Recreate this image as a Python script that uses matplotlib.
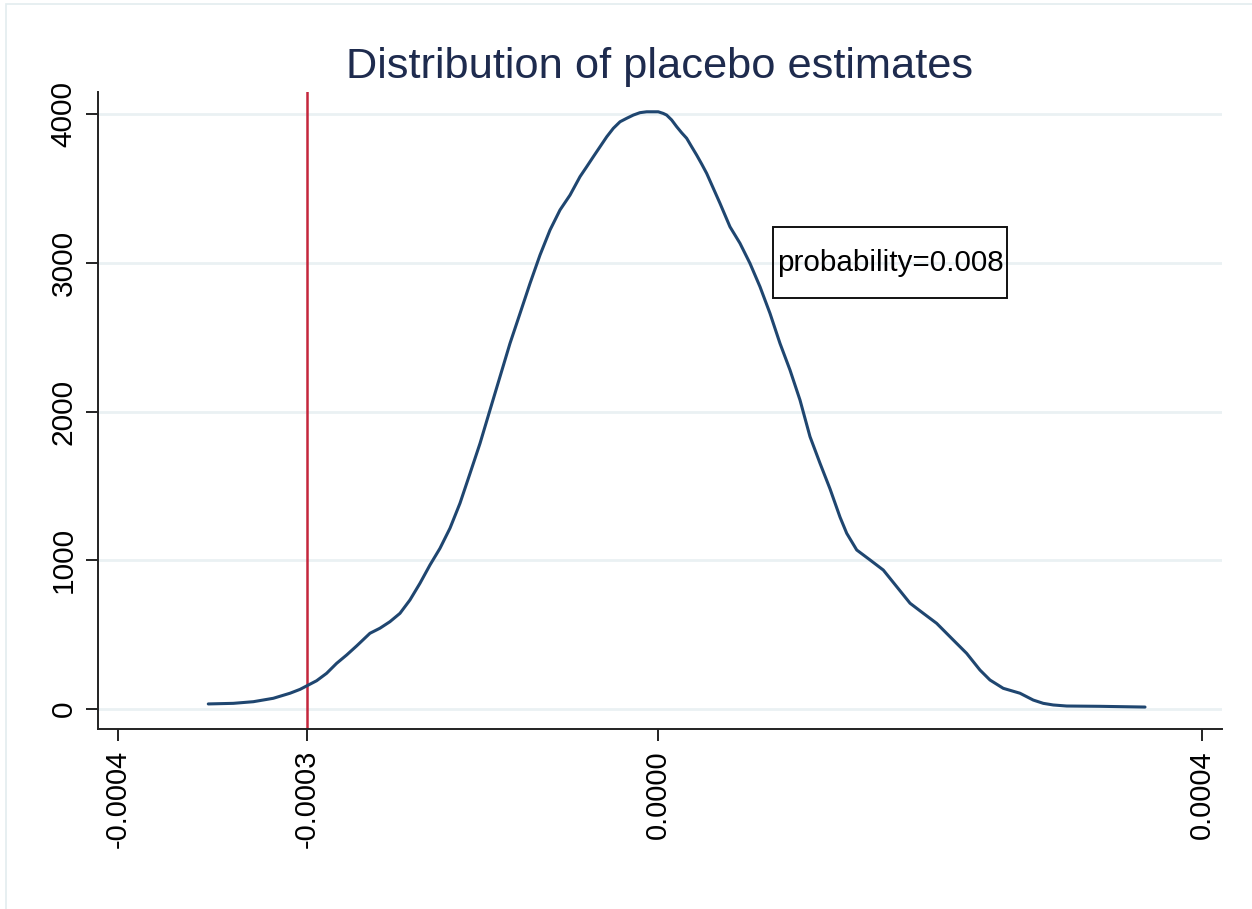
import matplotlib.pyplot as plt
from matplotlib.patches import Rectangle

plt.rcParams['font.family'] = ['Liberation Sans', 'DejaVu Sans']

# smoothed density of placebo estimates (x in units of 1e-4)
est_x = [-3.686, -3.481, -3.317, -3.153, -3.016, -2.934, -2.880, -2.798, -2.716, -2.634,
         -2.552, -2.470, -2.443, -2.361, -2.279, -2.197, -2.115, -2.033, -1.951, -1.869,
         -1.787, -1.705, -1.623, -1.541, -1.459, -1.377, -1.295, -1.213, -1.131, -1.049,
         -0.967, -0.885, -0.803, -0.721, -0.639, -0.584, -0.530, -0.475, -0.420, -0.366,
         -0.311, -0.257, -0.202, -0.148, -0.093, 0.002, 0.043, 0.071, 0.112, 0.153,
         0.194, 0.235, 0.276, 0.317, 0.358, 0.399, 0.508, 0.590, 0.672, 0.754,
         0.836, 0.918, 1.000, 1.082, 1.164, 1.246, 1.328, 1.410, 1.492, 1.547,
         1.629, 1.738, 1.847, 1.957, 2.066, 2.175, 2.284, 2.420, 2.530, 2.639,
         2.721, 2.830, 2.967, 3.076, 3.158, 3.240, 3.350, 3.623, 3.992]
density = [34, 38, 49, 72, 106, 132, 155, 190, 240, 307,
           363, 424, 445, 509, 543, 587, 643, 733, 845, 968,
           1080, 1215, 1383, 1583, 1785, 2010, 2234, 2458, 2659, 2861,
           3052, 3220, 3355, 3455, 3579, 3646, 3713, 3780, 3847, 3904,
           3948, 3971, 3993, 4009, 4015, 4015, 4004, 3993, 3960, 3915,
           3874, 3837, 3780, 3724, 3664, 3601, 3400, 3242, 3131, 2996,
           2839, 2660, 2458, 2279, 2077, 1831, 1652, 1480, 1290, 1181,
           1069, 1002, 934, 822, 711, 643, 576, 464, 374, 262,
           195, 139, 106, 60, 38, 27, 20, 18, 13]

actual_estimate = -2.877e-4
probability = 0.008

xtick_pos = [-4.426e-4, actual_estimate, 0.0, 4.459e-4]
xtick_labels = ["-0.0004", "-0.0003", "0.0000", "0.0004"]
ytick_pos = [0, 1000, 2000, 3000, 4000]

xs = [v * 1e-4 for v in est_x]

fig = plt.figure(figsize=(12.52, 9.09), dpi=100)
ax = fig.add_axes([98 / 1252, 1 - 729 / 909, 1124 / 1252, 637 / 909])

# faint outer frame of the graph region
fig.patches.append(Rectangle((6 / 1252, -0.1), 1.2, 1.1 - 4 / 909, transform=fig.transFigure,
                             fill=False, edgecolor='#e3ecef', linewidth=1.2))

for yv in ytick_pos:
    ax.axhline(yv, color='#eaf1f3', linewidth=2, zorder=0)

ax.plot(xs, density, color='#1f4670', linewidth=2.2, solid_joinstyle='round',
        solid_capstyle='round', zorder=3)
ax.axvline(actual_estimate, color='#c4263c', linewidth=1.8, zorder=2)

ax.set_xlim(-4.590e-4, 4.623e-4)
ax.set_ylim(-134.5, 4148)

ax.set_xticks(xtick_pos)
ax.set_xticklabels(xtick_labels, rotation=90, fontsize=21)
ax.set_yticks(ytick_pos)
ax.set_yticklabels([str(v) for v in ytick_pos], rotation=90, va='center', fontsize=21.5)
ax.tick_params(axis='both', length=8.6, width=1.4, color='#222222')
ax.tick_params(axis='x', pad=6.5)
ax.tick_params(axis='y', pad=6)

for side in ['top', 'right']:
    ax.spines[side].set_visible(False)
for side in ['left', 'bottom']:
    ax.spines[side].set_linewidth(1.4)
    ax.spines[side].set_color('#222222')

ax.set_title("Distribution of placebo estimates", fontsize=31.2, color='#1e2b4e', pad=10)

# probability annotation box
ax.add_patch(Rectangle((0.943e-4, 2763), 1.918e-4, 477, fill=False,
                       edgecolor='#111111', linewidth=1.4, zorder=4))
ax.text(1.902e-4, 3000, f"probability={probability:.3f}", ha='center', va='center',
        fontsize=21.3, color='black', zorder=5)

fig.savefig("out.png", dpi=100)
